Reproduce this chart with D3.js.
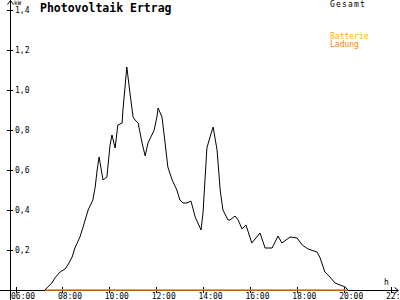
<!DOCTYPE html>
<html>
<head>
<meta charset="utf-8">
<script src="https://cdn.jsdelivr.net/npm/d3@7"></script>
<style>
  body { margin: 0; background: #fff; }
  svg { display: block; font-family: "DejaVu Sans Mono", monospace; }
</style>
</head>
<body>
<div id="chart"></div>
<script>
// data (time of day, kW)
var times = ["07:15","07:33","07:41","07:54","08:07","08:14","08:25","08:32","08:45","08:53",
  "09:06","09:18","09:24","09:29","09:34","09:44","09:54","10:02","10:07","10:15",
  "10:22","10:33","10:35","10:45","10:53","11:01","11:06","11:14","11:24","11:32",
  "11:39","11:49","11:55","12:02","12:05","12:15","12:23","12:30","12:41","12:53",
  "13:01","13:09","13:19","13:29","13:34","13:40","13:47","13:55","14:00","14:10",
  "14:18","14:26","14:36","14:44","14:51","15:04","15:09","15:22","15:30","15:40",
  "15:50","16:05","16:26","16:39","16:57","17:12","17:22","17:43","18:01","18:14",
  "18:29","18:52","19:00","19:12","19:25","19:38","19:51","20:04","20:11"];
var gesamt = [0,0.035,0.06,0.09,0.105,0.125,0.165,0.21,0.265,0.315,
  0.40,0.45,0.515,0.60,0.665,0.55,0.565,0.725,0.775,0.71,
  0.825,0.835,0.90,1.115,0.985,0.865,0.85,0.835,0.735,0.67,
  0.735,0.775,0.80,0.865,0.91,0.865,0.735,0.615,0.55,0.50,
  0.45,0.435,0.435,0.445,0.41,0.365,0.335,0.30,0.385,0.71,
  0.765,0.815,0.70,0.50,0.40,0.35,0.35,0.37,0.35,0.305,
  0.325,0.235,0.285,0.21,0.21,0.27,0.235,0.265,0.26,0.225,
  0.205,0.19,0.16,0.09,0.065,0.035,0.025,0.015,0];
var ladung = times.map(function(){ return 0; });   // battery charge stays at zero
var xTicks = [6,8,10,12,14,16,18,20,22];
var yTicks = [0.2,0.4,0.6,0.8,1.0,1.2,1.4];
var legend = ["Gesamt","Batterie","Ladung"];

var W = 400, H = 300;
function toHour(t){ var p = t.split(":"); return +p[0] + p[1]/60; }
function pad(n){ return (n<10 ? "0" : "") + n; }

var x = d3.scaleLinear().domain([6,22]).range([15.5,390.5]);
var y = d3.scaleLinear().domain([0,1.4]).range([290,10]);

var svg = d3.select("#chart").append("svg").attr("width",W).attr("height",H);

// axes lines with arrows
var ax = svg.append("g").attr("stroke","#000").attr("shape-rendering","crispEdges");
ax.append("line").attr("x1",10.5).attr("x2",10.5).attr("y1",0).attr("y2",300);
ax.append("line").attr("x1",0).attr("x2",398).attr("y1",290.5).attr("y2",290.5);
svg.append("path").attr("d","M7.5,4.5L10.5,0.5L13.5,4.5").attr("fill","none").attr("stroke","#000");
svg.append("path").attr("d","M394.5,287.5L398.5,290.5L394.5,293.5").attr("fill","none").attr("stroke","#000");

// x axis
var xa = svg.append("g").attr("transform","translate(0,290)")
  .call(d3.axisBottom(x).tickValues(xTicks).tickSize(3).tickFormat(function(h){ return pad(h)+":00"; }));
xa.select(".domain").remove();
xa.selectAll(".tick line").attr("y1",-3).attr("shape-rendering","crispEdges");
xa.selectAll(".tick text").attr("text-anchor","start").attr("x",-5).attr("y",9).attr("dy","0")
  .style("font-size","8px").style("font-family","'DejaVu Sans Mono', monospace");

// y axis
var ya = svg.append("g").attr("transform","translate(10,0)")
  .call(d3.axisRight(y).tickValues(yTicks).tickSize(3).tickFormat(function(v){ return d3.format(".1f")(v).replace(".",","); }));
ya.select(".domain").remove();
ya.selectAll(".tick line").attr("x1",-3).attr("shape-rendering","crispEdges");
ya.selectAll(".tick text").attr("x",5).attr("dy","0.32em")
  .style("font-size","8px").style("font-family","'DejaVu Sans Mono', monospace");

svg.append("text").attr("x",14).attr("y",5).text("kW").style("font-size","6px");
svg.append("text").attr("x",384).attr("y",285).text("h").style("font-size","8px");

// title
svg.append("text").attr("x",40).attr("y",12).text("Photovoltaik Ertrag")
  .style("font-size","11.5px").style("font-weight","bold");

// legend
svg.append("text").attr("x",330).attr("y",7).text(legend[0]).style("font-size","8px").style("letter-spacing","1.2px").attr("fill","#000");
svg.append("text").attr("x",330).attr("y",38.5).text(legend[1]).style("font-size","8px").attr("fill","#ffb000");
svg.append("text").attr("x",330).attr("y",46.5).text(legend[2]).style("font-size","8px").attr("fill","#ff8000");

var line = d3.line().x(function(d){ return x(toHour(d[0])); }).y(function(d){ return y(d[1]); });

// Ladung series (orange, on the zero line)
svg.append("path").datum(d3.zip(times,ladung)).attr("d",line)
  .attr("fill","none").attr("stroke","#ff8000").attr("stroke-width",1.5);

// Gesamt series
svg.append("path").datum(d3.zip(times,gesamt)).attr("d",line)
  .attr("fill","none").attr("stroke","#000").attr("stroke-width",1);
</script>
</body>
</html>
